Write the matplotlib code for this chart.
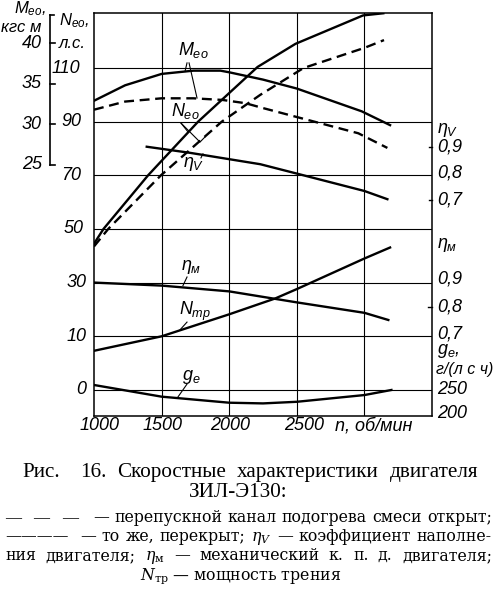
import matplotlib
matplotlib.use('Agg')
import matplotlib.pyplot as plt
from matplotlib import font_manager as fm
from matplotlib.transforms import blended_transform_factory

names = {f.name for f in fm.fontManager.ttflist}
SANS = 'Liberation Sans Narrow' if 'Liberation Sans Narrow' in names else 'Liberation Sans'
SERIF = 'Liberation Serif'
SERIF2 = 'DejaVu Serif'

plt.rcParams['mathtext.fontset'] = 'custom'
plt.rcParams['mathtext.it'] = SANS + ':italic'
plt.rcParams['mathtext.rm'] = SANS + ':italic'
plt.rcParams['mathtext.default'] = 'it'

# ---------------- data ----------------
rpm_Ne_closed = [1000, 1070, 1400, 1770, 2210, 2490, 2990, 3140]
Ne_closed = [44.5, 50, 70, 90, 110.4, 119.0, 129.6, 130.4]          # л.с.
rpm_Ne_open = [1000, 1105, 1495, 1945, 2230, 2550, 3000, 3145]
Ne_open = [43.5, 50, 70, 90, 100, 110, 117.5, 120.4]                 # л.с.

rpm_M_closed = [1000, 1230, 1500, 1735, 1935, 2000, 2250, 2500, 2980, 3190]
M_closed = [32.9, 34.8, 36.2, 36.6, 36.6, 36.4, 35.5, 34.4, 31.6, 29.9]  # кгс·м
rpm_M_open = [1000, 1230, 1500, 1735, 1950, 2120, 2250, 2500, 2955, 3170]
M_open = [31.8, 32.8, 33.2, 33.2, 33.0, 32.6, 32.0, 30.9, 28.9, 27.1]

rpm_etaV = [1390, 1710, 2230, 2490, 3000, 3170]
etaV = [0.901, 0.878, 0.835, 0.801, 0.734, 0.703]

rpm_etaM = [1000, 1500, 2000, 2500, 3000, 3177]
etaM = [0.887, 0.876, 0.855, 0.815, 0.777, 0.751]

rpm_Ntr = [1000, 1500, 2000, 2340, 2500, 3000, 3190]
Ntr = [4.6, 10.0, 18.2, 24.1, 27.6, 39.0, 43.1]                      # л.с.

rpm_ge = [1000, 1500, 2000, 2250, 2500, 3000, 3200]
ge = [260.8, 235.5, 222.4, 220.9, 224.4, 239.0, 250.0]               # г/(л.с.·ч)

x_ticks = [1000, 1500, 2000, 2500]
Ne_ticks = [110, 90, 70, 50, 30, 10]
M_ticks = [40, 35, 30, 25]
etaV_ticks = [0.9, 0.8, 0.7]
etaM_ticks = [0.9, 0.8, 0.7]
ge_ticks = [250, 200]

# ---------------- scale relations between the several y scales ----------------
def M_y(m):
    return 73.85 + (m - 25) * 3.031

def etaV_y(e):
    return 80.56 - (0.9 - e) * 98.77

def etaM_y(e):
    return 31.36 - (0.9 - e) * 102.5

def ge_y(g):
    return -10 + (g - 250) / 5.814

W, H = 500, 596
fig = plt.figure(figsize=(W / 100, H / 100), dpi=100)
ax = fig.add_axes([94 / W, 1 - 416 / H, 338 / W, 403 / H])
ax.set_xlim(1000, 3500)
ax.set_ylim(-19.7, 130.5)
ax.set_xticks([])
ax.set_yticks([])
for s in ax.spines.values():
    s.set_linewidth(1.1)

for v in [1500, 2000, 2500, 3000]:
    ax.axvline(v, color='black', lw=0.8, zorder=1)
for v in [110, 90, 70, 50, 30, 10, -10]:
    ax.axhline(v, color='black', lw=0.8, zorder=1)

LW = 1.7
DASH = (0, (4.2, 2.4))
ax.plot(rpm_Ne_closed, Ne_closed, color='black', lw=LW)
ax.plot(rpm_Ne_open, Ne_open, color='black', lw=LW, ls=DASH)
ax.plot(rpm_M_closed, [M_y(v) for v in M_closed], color='black', lw=LW)
ax.plot(rpm_M_open, [M_y(v) for v in M_open], color='black', lw=LW, ls=DASH)
ax.plot(rpm_etaV, [etaV_y(v) for v in etaV], color='black', lw=LW)
ax.plot(rpm_etaM, [etaM_y(v) for v in etaM], color='black', lw=LW)
ax.plot(rpm_Ntr, Ntr, color='black', lw=LW)
ax.plot(rpm_ge, [ge_y(v) for v in ge], color='black', lw=LW)

TK = dict(family=SANS, style='italic', fontsize=13, color='black')
LB = dict(family=SANS, style='italic', fontsize=13, color='black')
HD = dict(family=SANS, style='italic', fontsize=12, color='black')

# curve labels with leader lines
def leader(pts):
    xs, ys = zip(*pts)
    ax.plot(xs, ys, color='black', lw=0.8)

ax.text(1732, 116.7, r'$M_{eo}$', ha='center', va='center', **LB)
leader([(1688, 111.9), (1673, 108.7)])
leader([(1703, 111.9), (1762, 98.8)])
ax.text(1673, 94.0, r'$N_{eo}$', ha='center', va='center', **LB)
leader([(1643, 89.5), (1695, 86.2)])
leader([(1643, 89.5), (1784, 82.4), (1821, 84.3)])
ax.text(1740, 74.2, r'$\eta_{V}$', ha='center', va='center', **LB)
leader([(1791, 76.5), (1806, 78.0)])
ax.text(1717, 35.8, r'$\eta_{м}$', ha='center', va='center', **LB)
leader([(1688, 32.1), (1658, 28.9)])
ax.text(1747, 19.1, r'$N_{тр}$', ha='center', va='center', **LB)
leader([(1688, 15.3), (1636, 12.4)])
ax.text(1717, -5.2, r'$g_{e}$', ha='center', va='center', **LB)
leader([(1688, -7.8), (1621, -12.6)])

# x tick labels
xlab_off = {1000: 40, 1500: 5, 2000: 10, 2500: 55}
for v in x_ticks:
    ax.text(v + xlab_off[v], -23.3, str(v), ha='center', va='center',
            clip_on=False, **TK)
ax.text(3070, -23.3, 'n, об/мин', ha='center', va='center', clip_on=False, **TK)

bt = blended_transform_factory(ax.transAxes, ax.transData)
def axx(px):
    return (px - 94) / 338

# left: N_eo scale labels
ne_right = {110: 80, 90: 81, 70: 81, 50: 84, 30: 87, 10: 87}
for v in Ne_ticks:
    ax.text(axx(ne_right[v]), v, str(v), transform=bt, ha='right', va='center',
            clip_on=False, **TK)
ax.text(axx(86), -10, '0', transform=bt, ha='right', va='center', clip_on=False, **TK)

# left: M_eo axis with its own scale
m_top = 129.8
ax.plot([axx(50), axx(50)], [m_top, M_y(25)], transform=bt, color='black',
        lw=1.2, clip_on=False)
ax.plot([axx(50), axx(54)], [m_top, m_top], transform=bt, color='black',
        lw=1.2, clip_on=False)
for v in M_ticks:
    ax.plot([axx(50), axx(55)], [M_y(v), M_y(v)], transform=bt, color='black',
            lw=1.2, clip_on=False)
    ax.text(axx(42), M_y(v), str(v), transform=bt, ha='right', va='center',
            clip_on=False, **TK)

def fpos(px, py):
    return px / W, 1 - py / H

fig.text(*fpos(14, 9), r'$M_{eo}$,', ha='left', va='center', **HD)
fig.text(*fpos(1, 28), 'кгс м', ha='left', va='center', **HD)
fig.text(*fpos(59, 21), r'$N_{eo}$,', ha='left', va='center', **HD)
fig.text(*fpos(59, 43), 'л.с.', ha='left', va='center', **HD)

# right scales
RX = axx(437)
ax.text(RX, etaV_y(0.9) + 6.2, r'$\eta_{V}$', transform=bt, ha='left', va='center',
        clip_on=False, **TK)
for v in etaV_ticks:
    ax.text(RX, etaV_y(v), ('%.1f' % v).replace('.', ','), transform=bt, ha='left',
            va='center', clip_on=False, **TK)
for v in [0.9, 0.7]:
    ax.plot([axx(429), 1.0], [etaV_y(v), etaV_y(v)], transform=bt, color='black',
            lw=1.0, clip_on=False)
ax.text(RX, etaM_y(0.9) + 12.5, r'$\eta_{м}$', transform=bt, ha='left', va='center',
        clip_on=False, **TK)
for v in etaM_ticks:
    ax.text(RX, etaM_y(v), ('%.1f' % v).replace('.', ','), transform=bt, ha='left',
            va='center', clip_on=False, **TK)
ax.plot([axx(428), 1.0], [etaM_y(0.8), etaM_y(0.8)], transform=bt, color='black',
        lw=1.0, clip_on=False)
ax.text(RX, ge_y(250) + 14.5, r'$g_{e}$,', transform=bt, ha='left', va='center',
        clip_on=False, **TK)
ax.text(axx(436), ge_y(250) + 7.5, 'г/(л с ч)', transform=bt, ha='left', va='center',
        clip_on=False, family=SANS, style='italic', fontsize=11.5, color='black')
for v in ge_ticks:
    ax.text(RX, ge_y(v), str(v), transform=bt, ha='left', va='center',
            clip_on=False, **TK)

# ---------------- caption ----------------
renderer = fig.canvas.get_renderer()

def justify(words, x0, x1, py, **kw):
    texts = [fig.text(*fpos(x0, py), w, ha='left', va='baseline', **kw) for w in words]
    widths = [t.get_window_extent(renderer).width for t in texts]
    gap = (x1 - x0 - sum(widths)) / max(len(words) - 1, 1)
    x = x0
    for t, w in zip(texts, widths):
        t.set_x(x / W)
        x += w + gap

CAP = dict(family=SERIF, fontsize=15.2, color='black')
LEG = dict(family=SERIF2, fontsize=11.3, color='black', math_fontfamily='dejavuserif')

fig.text(*fpos(22, 477), 'Рис.', ha='left', va='baseline', **CAP)
justify(['16.', 'Скоростные', 'характеристики', 'двигателя'], 80, 478, 477, **CAP)
fig.text(*fpos(238, 497), 'ЗИЛ-Э130:', ha='center', va='baseline', **CAP)

justify(['—', '—', '—'], 5, 78, 522, family=SERIF, fontsize=11.5, color='black')
justify(['—', 'перепускной', 'канал', 'подогрева', 'смеси', 'открыт;'], 93, 492, 522, **LEG)
fig.text(*fpos(5, 541), '————', ha='left', va='baseline', **LEG)
justify(['—', 'то', 'же,', 'перекрыт;', r'$\eta_{V}$', '—', 'коэффициент', 'наполне-'],
        80, 492, 541, **LEG)
justify(['ния', 'двигателя;', r'$\eta_{\mathrm{м}}$', '—', 'механический', 'к.', 'п.',
         'д.', 'двигателя;'], 5, 492, 560, **LEG)
fig.text(*fpos(140, 579), r'$N_{\mathrm{тр}}$ — мощность трения', ha='left',
         va='baseline', **LEG)

fig.savefig('out.png', dpi=100, facecolor='white')
